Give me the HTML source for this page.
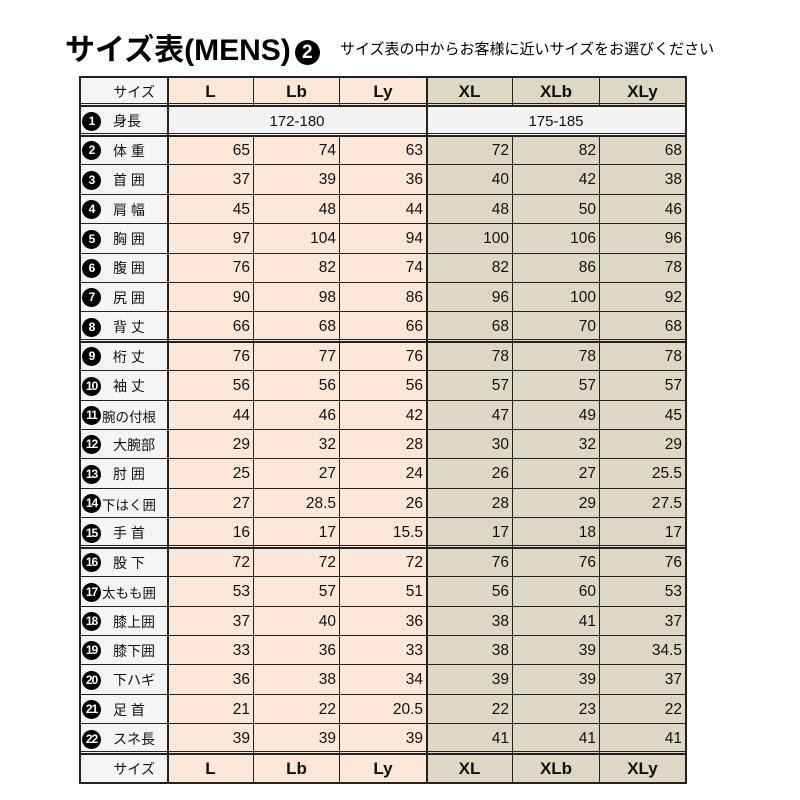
<!DOCTYPE html>
<html><head><meta charset="utf-8">
<style>
body{margin:0;background:#fff;width:800px;height:800px;position:relative;overflow:hidden;font-family:"Liberation Sans","Noto Sans CJK JP",sans-serif;}
.c{position:absolute;box-sizing:border-box;border-right:1px solid #222;font-size:15px;color:#111;display:flex;align-items:center;}
.h{position:absolute;background:#222;}
.circ{display:inline-block;width:19px;height:19px;border-radius:50%;background:#000;color:#fff;font-size:12px;font-weight:bold;text-align:center;line-height:19px;letter-spacing:-1px;margin-left:2px;}
</style></head><body>
<div style="position:absolute;left:65px;top:25px;font-size:30px;font-weight:bold;white-space:nowrap;">サイズ表(MENS)<span style="display:inline-block;width:25px;height:25px;border-radius:50%;background:#000;color:#fff;font-size:19px;text-align:center;line-height:25px;vertical-align:2px;margin-left:4px;">2</span></div>
<div style="position:absolute;left:340px;top:38px;font-size:15px;white-space:nowrap;">サイズ表の中からお客様に近いサイズをお選びください</div>
<div id="t"></div>
<script>
const cols=[80,168,254,340,427,513,600,686];
const names=["身長","体 重","首 囲","肩 幅","胸 囲","腹 囲","尻 囲","背 丈","桁 丈","袖 丈","腕の付根","大腕部","肘 囲","下はく囲","手 首","股 下","太もも囲","膝上囲","膝下囲","下ハギ","足 首","スネ長"];
const d=[null,[65,74,63,72,82,68],[37,39,36,40,42,38],[45,48,44,48,50,46],[97,104,94,100,106,96],[76,82,74,82,86,78],[90,98,86,96,100,92],[66,68,66,68,70,68],[76,77,76,78,78,78],[56,56,56,57,57,57],[44,46,42,47,49,45],[29,32,28,30,32,29],[25,27,24,26,27,25.5],[27,28.5,26,28,29,27.5],[16,17,15.5,17,18,17],[72,72,72,76,76,76],[53,57,51,56,60,53],[37,40,36,38,41,37],[33,36,33,38,39,34.5],[36,38,34,39,39,37],[21,22,20.5,22,23,22],[39,39,39,41,41,41]];
const hd=["L","Lb","Ly","XL","XLb","XLy"];
const rh=29.42,top0=77;let h="";
const y=i=>top0+i*rh;
function cell(x,yy,w,hh,bg,content,al,extra){h+=`<div class="c" style="left:${x}px;top:${yy}px;width:${w}px;height:${hh}px;background:${bg};justify-content:${al};${extra||""}">${content}</div>`;}
for(let r=0;r<24;r++){
 const yy=y(r),hh=rh+0.5;
 if(r==0||r==23){
  cell(80,yy,88,hh,"#f5f5f5","サイズ","flex-end","padding-right:12px;font-size:14px;");
  for(let c=0;c<6;c++)cell(cols[c+1],yy,cols[c+2]-cols[c+1],hh,c<3?"#fce7d8":"#dcd8c5",hd[c],"center","font-size:17px;font-weight:bold;");
 } else {
  const i=r-1;
  const lab=`<span class="circ">${i+1}</span><span style="${i>=10&&(names[i].length>=4)?'font-size:13.5px;margin-left:1px':'margin-left:12px'}">${names[i]}</span>`;
  cell(80,yy,88,hh,"#f5f5f5",lab,"flex-start","font-size:14px;");
  if(i==0){cell(168,yy,259,hh,"#f4f4f4","172-180","center");cell(427,yy,259,hh,"#f4f4f4","175-185","center");}
  else for(let c=0;c<6;c++)cell(cols[c+1],yy,cols[c+2]-cols[c+1],hh,c<3?"#fce7d8":"#dcd8c5",d[i][c],"flex-end","padding-right:3px;font-size:15.5px;");
 }
}
for(let r=1;r<24;r++){h+=`<div class="h" style="left:79px;top:${Math.round(y(r))-1}px;width:608px;height:1px"></div>`;}
h+=`<div class="h" style="left:79px;top:76px;width:2px;height:708px"></div><div class="h" style="left:79px;top:76px;width:608px;height:2px"></div>`;
h+=`<div class="h" style="left:426px;top:76px;width:2px;height:708px"></div><div class="h" style="left:167px;top:76px;width:2px;height:708px"></div><div class="h" style="left:685px;top:76px;width:2px;height:708px"></div>`;
for(const r of [1,2,9,16,23]){h+=`<div class="h" style="left:79px;top:${Math.round(y(r))-3}px;width:608px;height:1px"></div><div class="h" style="left:79px;top:${Math.round(y(r))}px;width:608px;height:1px"></div>`;}
h+=`<div class="h" style="left:79px;top:${Math.round(y(24))-1}px;width:608px;height:2px"></div>`;
document.getElementById("t").innerHTML=h;
</script>
</body></html>
